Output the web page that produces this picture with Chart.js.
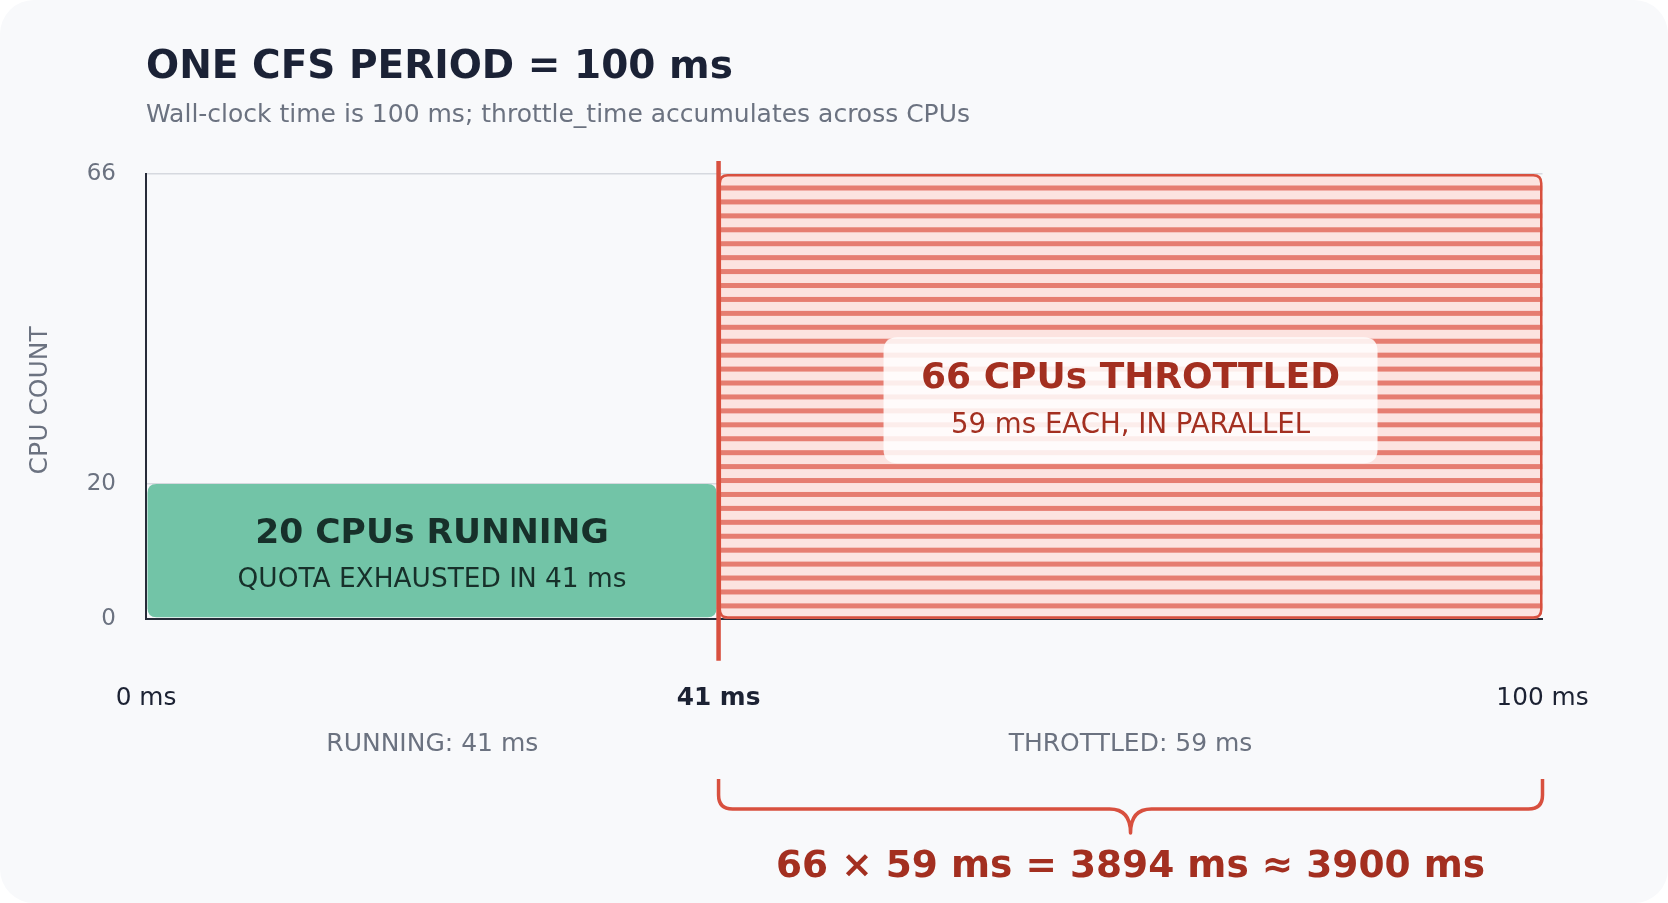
<!DOCTYPE html>
<html>
<head>
<meta charset="utf-8">
<title>One CFS period</title>
<script src="https://cdn.jsdelivr.net/npm/chart.js@4.4.1/dist/chart.umd.min.js"></script>
<style>
    html, body { margin: 0; padding: 0; background: #ffffff; }
    .card {
        position: absolute; left: 0; top: 0;
        width: 1668px; height: 903px;
        background: #f8f9fb;
        border-radius: 34px;
        overflow: hidden;
    }
    canvas { display: block; }
</style>
</head>
<body>
<div class="card"><canvas id="cfsChart" width="1668" height="903"></canvas></div>
<script>
// chart values
const periodTicks = [0, 41, 100];
const periodTickLabels = ['0 ms', '41 ms', '100 ms'];
const cpuTicks = [0, 20, 66];
const quotaMs = 41;
const phaseStart = [0, 41];
const phaseEnd = [41, 100];
const phaseCpus = [20, 66];
const phaseTitles = ['20 CPUs RUNNING', '66 CPUs THROTTLED'];
const phaseNotes = ['QUOTA EXHAUSTED IN 41 ms', '59 ms EACH, IN PARALLEL'];
const phaseLabels = ['RUNNING: 41 ms', 'THROTTLED: 59 ms'];
const formulaText = '66 × 59 ms = 3894 ms ≈ 3900 ms';
const titleText = 'ONE CFS PERIOD = 100 ms';
const subtitleText = 'Wall-clock time is 100 ms; throttle_time accumulates across CPUs';

const FONT = "'DejaVu Sans', 'Noto Sans', sans-serif";
const RED = '#d8503f';
const DARK_RED = '#a32f20';
const GRAY = '#6b7280';
const NAVY = '#1b2236';

Chart.defaults.font.family = FONT;

function roundRect(ctx, x, y, w, h, r) {
    ctx.beginPath();
    ctx.moveTo(x + r, y);
    ctx.lineTo(x + w - r, y);
    ctx.quadraticCurveTo(x + w, y, x + w, y + r);
    ctx.lineTo(x + w, y + h - r);
    ctx.quadraticCurveTo(x + w, y + h, x + w - r, y + h);
    ctx.lineTo(x + r, y + h);
    ctx.quadraticCurveTo(x, y + h, x, y + h - r);
    ctx.lineTo(x, y + r);
    ctx.quadraticCurveTo(x, y, x + r, y);
    ctx.closePath();
}

// text with its cap-height centred on cy
function capText(ctx, text, x, cy, size, weight, color, align) {
    ctx.font = `${weight} ${size}px ${FONT}`;
    ctx.fillStyle = color;
    ctx.textAlign = align || 'center';
    ctx.textBaseline = 'alphabetic';
    ctx.fillText(text, x, cy + size * 0.3645);
}

const phaseBoxes = {
    id: 'phaseBoxes',
    afterDatasetsDraw(chart) {
        const { ctx, chartArea, scales: { x, y } } = chart;
        ctx.save();

        // running block
        const gx0 = x.getPixelForValue(phaseStart[0]) + 1.5;
        const gx1 = x.getPixelForValue(phaseEnd[0]) - 2;
        const gy0 = y.getPixelForValue(phaseCpus[0]);
        const gy1 = y.getPixelForValue(0) - 1.5;
        roundRect(ctx, gx0, gy0, gx1 - gx0, gy1 - gy0, 9);
        ctx.fillStyle = '#72c4a7';
        ctx.fill();

        const gcx = (gx0 + gx1) / 2;
        const gcy = (gy0 + gy1) / 2;
        capText(ctx, phaseTitles[0], gcx, gcy - 20, 34.5, 'bold', '#17302a');
        capText(ctx, phaseNotes[0], gcx, gcy + 27, 26.4, 'normal', '#17302a');

        // throttled block, striped
        const rx0 = x.getPixelForValue(phaseStart[1]);
        const rx1 = x.getPixelForValue(phaseEnd[1]);
        const ry0 = y.getPixelForValue(phaseCpus[1]);
        const ry1 = y.getPixelForValue(0);
        ctx.save();
        roundRect(ctx, rx0, ry0, rx1 - rx0, ry1 - ry0, 9);
        ctx.clip();
        ctx.fillStyle = '#fce3e0';
        ctx.fillRect(rx0, ry0, rx1 - rx0, ry1 - ry0);
        ctx.fillStyle = '#e67d71';
        for (let sy = ry0 + 11.6; sy < ry1; sy += 13.93) {
            ctx.fillRect(rx0, sy, rx1 - rx0, 5);
        }
        ctx.restore();
        roundRect(ctx, rx0 + 1.25, ry0 + 1.25, rx1 - rx0 - 2.5, ry1 - ry0 - 2.5, 8);
        ctx.strokeStyle = RED;
        ctx.lineWidth = 2.5;
        ctx.stroke();

        const rcx = (rx0 + rx1) / 2;
        const rcy = (ry0 + ry1) / 2;
        roundRect(ctx, rcx - 247, rcy - 59, 494, 126, 14);
        ctx.fillStyle = 'rgba(255,255,255,0.86)';
        ctx.fill();
        capText(ctx, phaseTitles[1], rcx, rcy - 21.5, 36, 'bold', DARK_RED);
        capText(ctx, phaseNotes[1], rcx, rcy + 27, 27.6, 'normal', DARK_RED);

        // quota boundary
        const qx = x.getPixelForValue(quotaMs);
        ctx.strokeStyle = RED;
        ctx.lineWidth = 4.5;
        ctx.beginPath();
        ctx.moveTo(qx, chartArea.top - 13);
        ctx.lineTo(qx, chartArea.bottom + 42);
        ctx.stroke();

        // axis title, sits a little below the plot middle
        ctx.save();
        ctx.translate(40, (chartArea.top + chartArea.bottom) / 2 + 4);
        ctx.rotate(-Math.PI / 2);
        ctx.font = `25px ${FONT}`;
        ctx.fillStyle = GRAY;
        ctx.textAlign = 'center';
        ctx.textBaseline = 'middle';
        ctx.fillText('CPU COUNT', 0, 0);
        ctx.restore();

        // phase captions under the axis
        for (let i = 0; i < phaseLabels.length; i++) {
            const cx = (x.getPixelForValue(phaseStart[i]) + x.getPixelForValue(phaseEnd[i])) / 2;
            capText(ctx, phaseLabels[i], cx, 741.5, 25, 'normal', GRAY);
        }

        // brace under the throttled span
        const bx0 = rx0, bx1 = rx1, bm = rcx;
        const top = 779, mid = 809, tip = 833, r = 14, cusp = 21;
        ctx.beginPath();
        ctx.moveTo(bx0, top);
        ctx.lineTo(bx0, mid - r);
        ctx.quadraticCurveTo(bx0, mid, bx0 + r, mid);
        ctx.lineTo(bm - cusp, mid);
        ctx.quadraticCurveTo(bm, mid, bm, tip);
        ctx.quadraticCurveTo(bm, mid, bm + cusp, mid);
        ctx.lineTo(bx1 - r, mid);
        ctx.quadraticCurveTo(bx1, mid, bx1, mid - r);
        ctx.lineTo(bx1, top);
        ctx.strokeStyle = RED;
        ctx.lineWidth = 3.5;
        ctx.lineJoin = 'round';
        ctx.lineCap = 'butt';
        ctx.stroke();

        capText(ctx, formulaText, bm, 863, 37.5, 'bold', DARK_RED);

        // heading
        capText(ctx, titleText, 146, 64.2, 39, 'bold', NAVY, 'left');
        capText(ctx, subtitleText, 146, 113, 25, 'normal', GRAY, 'left');

        ctx.restore();
    }
};

const ctx = document.getElementById('cfsChart').getContext('2d');
new Chart(ctx, {
    type: 'scatter',
    data: {
        datasets: phaseCpus.map((cpus, i) => ({
            label: phaseLabels[i],
            data: [{ x: phaseStart[i], y: cpus }, { x: phaseEnd[i], y: cpus }],
            pointRadius: 0,
            showLine: false
        }))
    },
    options: {
        responsive: false,
        animation: false,
        devicePixelRatio: 1,
        layout: { padding: { top: 173.9, right: 125.5, left: 0, bottom: 0 } },
        plugins: {
            legend: { display: false },
            tooltip: { enabled: false }
        },
        scales: {
            x: {
                type: 'linear',
                min: 0,
                max: 100,
                afterBuildTicks: (scale) => { scale.ticks = periodTicks.map(v => ({ value: v })); },
                afterFit: (scale) => { scale.height = 284.3; },
                grid: { display: false },
                border: { color: '#272c39', width: 2 },
                ticks: {
                    autoSkip: false,
                    maxRotation: 0,
                    padding: 57.2,
                    color: '#1c2233',
                    font: (c) => ({ size: 24.8, weight: c.tick && c.tick.value === quotaMs ? 'bold' : 'normal' }),
                    callback: (value) => periodTickLabels[periodTicks.indexOf(value)]
                }
            },
            y: {
                type: 'linear',
                min: 0,
                max: 66,
                afterBuildTicks: (scale) => { scale.ticks = cpuTicks.map(v => ({ value: v })); },
                afterFit: (scale) => { scale.width = 146; },
                grid: { color: '#d6d9df', lineWidth: 1.5, drawTicks: false },
                border: { color: '#272c39', width: 2 },
                ticks: {
                    padding: 30,
                    color: GRAY,
                    font: { size: 23 },
                    callback: (value) => String(value)
                }
            }
        }
    },
    plugins: [phaseBoxes]
});
</script>
</body>
</html>
